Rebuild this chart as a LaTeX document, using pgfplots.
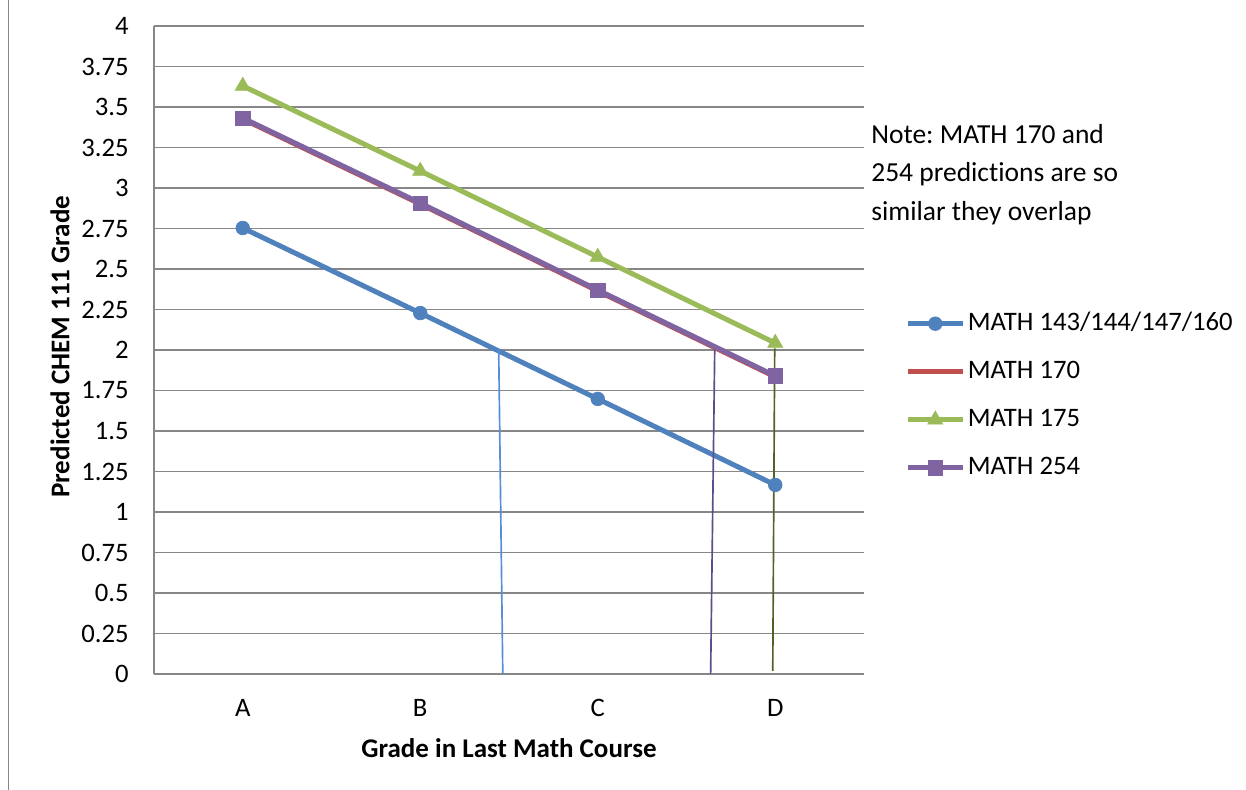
\documentclass[border=0pt]{standalone}
\usepackage{pgfplots}
\pgfplotsset{compat=1.18}
\usepackage{fontspec}
\setmainfont{Carlito}[Ligatures=NoCommon]
\frenchspacing
\definecolor{cblue}{HTML}{4F81BD}
\definecolor{cred}{HTML}{C0504D}
\definecolor{cgreen}{HTML}{9BBB59}
\definecolor{cpurple}{HTML}{8064A2}
\definecolor{tblue}{HTML}{558ED5}
\definecolor{tpurple}{HTML}{5F4B8B}
\definecolor{tgreen}{HTML}{4F6228}
\definecolor{cgrid}{HTML}{878787}
\begin{document}
\begin{tikzpicture}
\useasboundingbox (0,0) rectangle (747.6pt,474pt);
\draw[cgrid, line width=1pt] (5.1pt,0) -- (5.1pt,474pt);
\begin{axis}[
  at={(92.4pt,69.6pt)}, anchor=south west,
  scale only axis, width=426pt, height=388.8pt,
  xmin=-0.5, xmax=3.5, ymin=0, ymax=4,
  xtick={0,1,2,3}, xticklabels={A,B,C,D},
  ytick={0,0.25,0.5,0.75,1,1.25,1.5,1.75,2,2.25,2.5,2.75,3,3.25,3.5,3.75,4},
  /pgf/number format/assume math mode=true,
  /pgf/number format/fixed, /pgf/number format/precision=2,
  axis x line*=bottom, axis y line*=left,
  axis line style={cgrid, line width=1pt, -},
  ymajorgrids, grid style={cgrid, line width=1pt},
  major tick length=0pt,
  tick label style={font=\fontsize{16}{19}\selectfont, text=black},
  yticklabel style={anchor=east, inner sep=0pt, xshift=-15pt},
  xticklabel style={anchor=north, inner sep=0pt, yshift=-15pt},
  xlabel={Grade in Last Math Course},
  ylabel={Predicted CHEM 111 Grade},
  label style={font=\fontsize{16.2}{19}\selectfont\bfseries},
  xlabel style={at={(rel axis cs:0.5,-0.114)}, anchor=center, inner sep=0pt},
  ylabel style={at={(rel axis cs:-0.1324,0.505)}, anchor=center, inner sep=0pt},
  legend style={at={(rel axis cs:1.0577,0.5617)}, anchor=north west,
    draw=none, fill=none, inner sep=0pt, row sep=12.8pt,
    font=\fontsize{16}{19}\selectfont,
    nodes={inner sep=0pt, inner xsep=1.5pt, text height=12pt, text depth=4pt, anchor=west}},
  legend cell align=left,
  legend image code/.code={\draw[mark repeat=2,mark phase=2,#1] plot coordinates {(0pt,0pt) (16.5pt,0pt) (33pt,0pt)};},
  clip=false,
]
\addplot[cblue, line width=3pt, mark=*, mark size=4.1pt, mark options={solid, line width=0.4pt}] coordinates {(0,2.753) (1,2.228) (2,1.698) (3,1.167)};
\addlegendentry{MATH 143/144/147/160}
\addplot[cred, line width=3pt] coordinates {(0,3.426) (1,2.901) (2,2.364) (3,1.834)};
\addlegendentry{MATH 170}
\addplot[cgreen, line width=3pt, mark=triangle*, mark size=5.2pt, mark options={solid, line width=0.4pt}] coordinates {(0,3.63) (1,3.105) (2,2.574) (3,2.043)};
\addlegendentry{MATH 175}
\addplot[cpurple, line width=3pt, mark=square*, mark size=4.3pt, mark options={solid, line width=0.4pt}] coordinates {(0,3.432) (1,2.907) (2,2.370) (3,1.840)};
\addlegendentry{MATH 254}
\addplot[tblue, line width=1pt, forget plot] coordinates {(1.442,2.0) (1.465,0)};
\addplot[tpurple, line width=1pt, forget plot] coordinates {(2.659,2.0) (2.636,0)};
\addplot[tgreen, line width=1pt, forget plot] coordinates {(2.997,2.01) (2.986,0.02)};
\end{axis}
\node[anchor=base west, inner sep=0pt, font=\fontsize{16.5}{20}\selectfont] at (522.6pt,387.6pt) {Note: MATH 170 and};
\node[anchor=base west, inner sep=0pt, font=\fontsize{16.5}{20}\selectfont] at (522.6pt,364.8pt) {254 predictions are so};
\node[anchor=base west, inner sep=0pt, font=\fontsize{16.5}{20}\selectfont] at (522.6pt,341.4pt) {similar they overlap};
\end{tikzpicture}
\end{document}
